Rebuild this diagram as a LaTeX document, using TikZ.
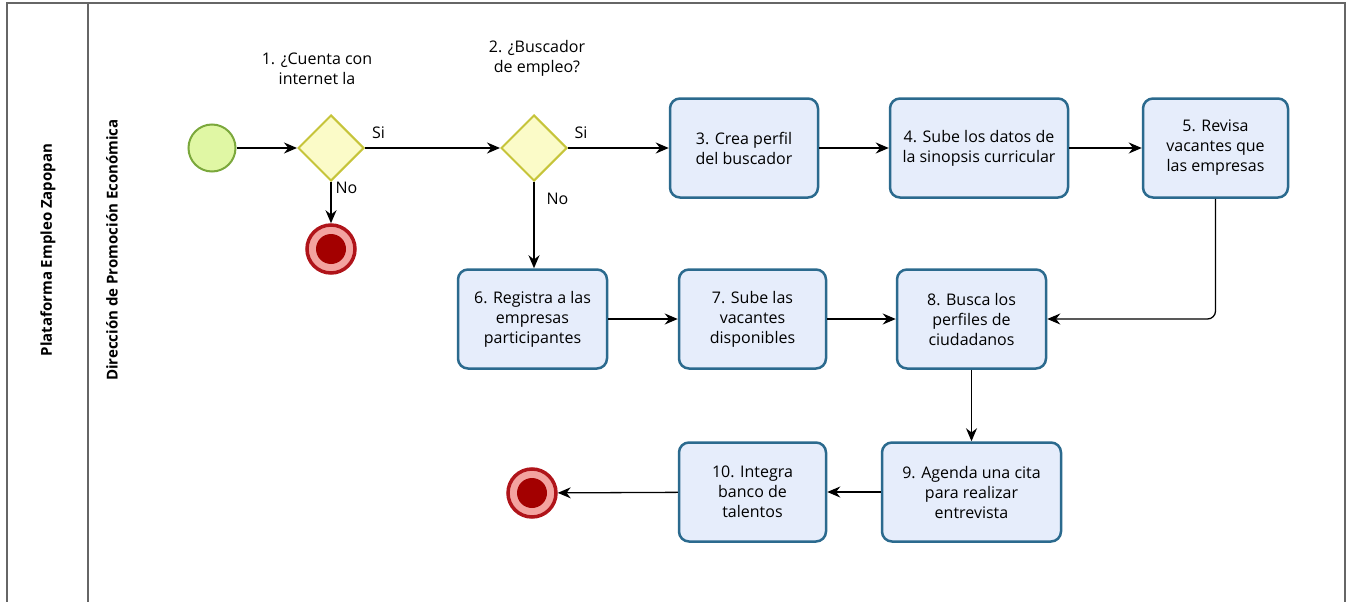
\documentclass[tikz,border=0pt]{standalone}
\usepackage{fontspec}
\setmainfont{Open Sans}
\usetikzlibrary{arrows.meta,shapes.geometric}

\definecolor{taskline}{HTML}{2B6A8E}
\definecolor{taskfill}{HTML}{E6EDFB}
\definecolor{gwline}{HTML}{C6C43A}
\definecolor{gwfill}{HTML}{FBFBC8}
\definecolor{startline}{HTML}{7BA83C}
\definecolor{startfill}{HTML}{E0F7A4}
\definecolor{endline}{HTML}{B0141A}
\definecolor{endring}{HTML}{F3A3A0}
\definecolor{endcore}{HTML}{A30000}
\definecolor{laneline}{HTML}{666666}

\tikzset{
  txt/.style={font=\fontsize{16}{20}\selectfont, align=center},
  task/.style={txt, draw=taskline, fill=taskfill, line width=2.5pt,
    rounded corners=10pt, minimum height=99pt, inner sep=2pt},
  gateway/.style={diamond, shape aspect=1, draw=gwline, fill=gwfill,
    line width=2pt, minimum size=66pt, inner sep=0pt},
  startev/.style={circle, draw=startline, fill=startfill, line width=2pt,
    minimum size=47pt, inner sep=0pt},
  endev/.style={circle, draw=endline, fill=endring, line width=3.5pt,
    minimum size=48pt, inner sep=0pt,
    path picture={\fill[endcore] (path picture bounding box.center) circle (15pt);}},
  flow/.style={line width=1.3pt, -{Stealth[length=13pt,width=11pt]}},
  lbl/.style={txt, inner sep=0pt},
  lane/.style={draw=laneline, line width=1.3pt},
  lanetitle/.style={rotate=90, font=\fontsize{15}{18}\selectfont\bfseries}
}

\begin{document}
\begin{tikzpicture}[x=1pt, y=-1pt]
  \useasboundingbox (0,0) rectangle (1349,602);

  % pool and lane frame
  \draw[lane] (7,602) -- (7,3) -- (1345,3) -- (1345,602);
  \draw[lane] (88,3) -- (88,602);
  \node[lanetitle] (pool) at (48,250) {Plataforma Empleo Zapopan};
  \node[lanetitle] (lanename) at (112,250) {Dirección de Promoción Económica};

  % events and gateways
  \node[startev] (start) at (212,148) {};
  \node[gateway] (g1) at (331,148) {};
  \node[gateway] (g2) at (534,148) {};
  \node[endev] (end1) at (331,249) {};
  \node[endev] (end2) at (532,493) {};

  % gateway questions
  \node[lbl] (q1) at (317,69) {1. ¿Cuenta con\\internet la};
  \node[lbl] (q2) at (537,58) {2. ¿Buscador\\de empleo?};

  % tasks
  \node[task, minimum width=148pt] (t3) at (744,148) {3. Crea perfil\\del buscador};
  \node[task, minimum width=178pt] (t4) at (979,148) {4. Sube los datos de\\la sinopsis curricular};
  \node[task, minimum width=145pt] (t5) at (1215.5,148) {5. Revisa\\vacantes que\\las empresas};
  \node[task, minimum width=149pt] (t6) at (532.5,319) {6. Registra a las\\empresas\\participantes};
  \node[task, minimum width=147pt] (t7) at (752.5,319) {7. Sube las\\vacantes\\disponibles};
  \node[task, minimum width=149pt] (t8) at (971.5,319) {8. Busca los\\perfiles de\\ciudadanos};
  \node[task, minimum width=179pt] (t9) at (971.5,492) {9. Agenda una cita\\para realizar\\entrevista};
  \node[task, minimum width=147pt] (t10) at (752.5,492) {10. Integra\\banco de\\talentos};

  % sequence flows
  \draw[flow] (start) -- (g1.west);
  \draw[flow] (g1.east) -- node[lbl, pos=0.1, above=9pt] (si1) {Si} (g2.west);
  \draw[flow] (g1.south) -- node[lbl, pos=0.15, right=4pt] (no1) {No} (end1.north);
  \draw[flow] (g2.east) -- node[lbl, pos=0.13, above=9pt] (si2) {Si} (t3.west);
  \draw[flow] (g2.south) -- node[lbl, pos=0.2, right=12pt] (no2) {No} (g2.south |- t6.north);
  \draw[flow] (t3) -- (t4);
  \draw[flow] (t4) -- (t5);
  \draw[flow, rounded corners=8pt] (t5.south) |- (t8.east);
  \draw[flow] (t6) -- (t7);
  \draw[flow] (t7) -- (t8);
  \draw[flow] (t8) -- (t9);
  \draw[flow] (t9) -- (t10);
  \draw[flow] (t10) -- (end2);
\end{tikzpicture}
\end{document}
